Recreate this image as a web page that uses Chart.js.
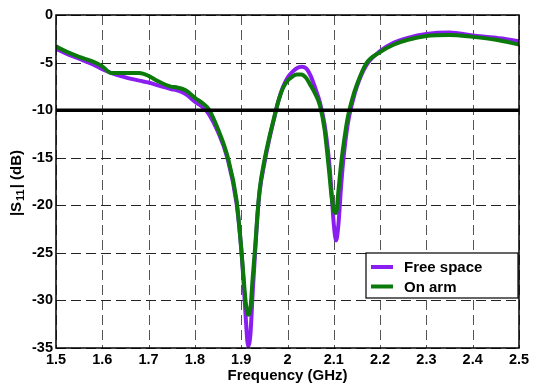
<!DOCTYPE html>
<html>
<head>
<meta charset="utf-8">
<script src="https://cdn.jsdelivr.net/npm/chart.js@4.4.1/dist/chart.umd.min.js"></script>
<style>
  html, body { margin: 0; padding: 0; background: #fff; }
  #wrap { width: 533px; height: 385px; }
</style>
</head>
<body>
<div id="wrap"><canvas id="s11Chart" width="533" height="385"></canvas></div>
<script>
// frequency samples (GHz)
const freq = [1.50, 1.52, 1.55, 1.58, 1.60, 1.62, 1.65, 1.68, 1.70, 1.72, 1.75, 1.76, 1.78, 1.80,
  1.82, 1.83, 1.85, 1.87, 1.89, 1.90, 1.905, 1.91, 1.915, 1.92, 1.925, 1.93, 1.935, 1.94,
  1.95, 1.96, 1.97, 1.98, 1.99, 2.00, 2.01, 2.02, 2.03, 2.04, 2.05, 2.06, 2.07, 2.08, 2.09,
  2.095, 2.10, 2.105, 2.11, 2.115, 2.12, 2.13, 2.14, 2.15, 2.17, 2.20, 2.23, 2.26, 2.30,
  2.35, 2.40, 2.45, 2.50];

// |S11| in free space (dB)
const freeSpace = [-3.55, -4.0, -4.6, -5.2, -5.7, -6.1, -6.55, -6.9, -7.1, -7.4, -7.8, -7.9, -8.3, -9.1,
  -9.8, -10.4, -12.3, -15.0, -19.8, -24.5, -28.0, -32.0, -34.8, -33.5, -29.0, -25.0, -21.2, -18.5,
  -15.6, -13.2, -11.1, -9.1, -7.6, -6.6, -6.0, -5.6, -5.45, -5.6, -6.4, -7.7, -9.2, -11.5, -15.5,
  -18.5, -22.0, -23.7, -22.0, -18.5, -15.5, -11.5, -9.2, -7.5, -5.3, -3.8, -2.9, -2.4, -2.0,
  -1.85, -2.15, -2.4, -2.75];

// |S11| on arm (dB)
const onArm = [-3.3, -3.8, -4.4, -4.9, -5.4, -6.1, -6.1, -6.1, -6.4, -6.95, -7.55, -7.6, -7.9, -8.7,
  -9.4, -9.9, -12.0, -14.8, -19.5, -24.5, -27.5, -30.3, -31.5, -30.8, -27.5, -24.5, -21.0, -18.3,
  -15.3, -13.0, -11.0, -9.1, -7.7, -6.9, -6.5, -6.25, -6.25, -6.6, -7.4, -8.3, -9.5, -12.0, -16.5,
  -19.0, -20.6, -20.8, -18.5, -16.0, -14.0, -10.8, -8.8, -7.3, -5.1, -3.9, -3.1, -2.6, -2.2,
  -2.1, -2.3, -2.6, -3.1];

// -10 dB reference line
const refFreq = [1.5, 2.5];
const refLevel = [-10, -10];

const xTicks = [1.5, 1.6, 1.7, 1.8, 1.9, 2.0, 2.1, 2.2, 2.3, 2.4, 2.5];
const yTicks = [0, -5, -10, -15, -20, -25, -30, -35];

const seriesNames = ['Free space', 'On arm'];
const seriesColors = ['#8a1ef0', '#0b7a0b'];

function pts(xs, ys) {
  return xs.map((x, i) => ({ x: x, y: ys[i] }));
}

const fontFam = '"Liberation Sans", Arial, sans-serif';
const tickFont = { family: 'Liberation Sans, Arial, sans-serif', size: 14.5, weight: 'bold' };
const titleFont = { family: 'Liberation Sans, Arial, sans-serif', size: 15, weight: 'bold' };

// dashed grid (drawn under the curves)
const gridPlugin = {
  id: 'dashGrid',
  beforeDatasetsDraw(chart) {
    const { ctx, chartArea: a, scales } = chart;
    ctx.save();
    ctx.lineWidth = 1;
    ctx.setLineDash([10, 5]);
    ctx.strokeStyle = '#555';
    xTicks.forEach(v => {
      const px = Math.round(scales.x.getPixelForValue(v)) + 0.5;
      ctx.beginPath();
      ctx.moveTo(px, a.top);
      ctx.lineTo(px, a.bottom);
      ctx.stroke();
    });
    ctx.strokeStyle = '#222';
    yTicks.forEach(v => {
      const py = Math.round(scales.y.getPixelForValue(v)) + 0.5;
      ctx.beginPath();
      ctx.moveTo(a.left, py);
      ctx.lineTo(a.right, py);
      ctx.stroke();
    });
    ctx.restore();
  }
};

// frame, legend box and y title with a real subscript
const framePlugin = {
  id: 'frame',
  afterDatasetsDraw(chart) {
    const { ctx, chartArea: a } = chart;
    ctx.save();
    ctx.strokeStyle = '#000';
    ctx.lineWidth = 1.5;
    ctx.strokeRect(a.left, a.top, a.right - a.left, a.bottom - a.top);

    // legend
    const bx = a.right - 153, by = a.bottom - 95, bw = 152, bh = 45;
    ctx.fillStyle = '#fff';
    ctx.fillRect(bx, by, bw, bh);
    ctx.lineWidth = 1.2;
    ctx.strokeRect(bx, by, bw, bh);
    ctx.font = 'bold 15px ' + fontFam;
    ctx.textBaseline = 'middle';
    seriesNames.forEach((name, i) => {
      const yy = by + 14 + i * 19.5;
      ctx.strokeStyle = seriesColors[i];
      ctx.lineWidth = 4;
      ctx.beginPath();
      ctx.moveTo(bx + 5, yy);
      ctx.lineTo(bx + 27, yy);
      ctx.stroke();
      ctx.fillStyle = '#000';
      ctx.fillText(name, bx + 38, yy + 1);
    });

    // y axis title: |S11| (dB)
    const parts = [
      { t: '|S', f: 'bold 15px ' + fontFam, dy: 0 },
      { t: '11', f: 'bold 11px ' + fontFam, dy: 4 },
      { t: '| (dB)', f: 'bold 15px ' + fontFam, dy: 0 }
    ];
    let total = 0;
    parts.forEach(p => { ctx.font = p.f; p.w = ctx.measureText(p.t).width + 1; total += p.w; });
    ctx.translate(17, (a.top + a.bottom) / 2 + 1);
    ctx.rotate(-Math.PI / 2);
    ctx.fillStyle = '#000';
    ctx.textAlign = 'left';
    ctx.textBaseline = 'middle';
    let cx = -total / 2;
    parts.forEach(p => {
      ctx.font = p.f;
      ctx.fillText(p.t, cx, p.dy);
      cx += p.w;
    });
    ctx.restore();
  }
};

const ctx = document.getElementById('s11Chart').getContext('2d');
new Chart(ctx, {
  type: 'line',
  data: {
    datasets: [
      {
        label: '-10 dB',
        data: pts(refFreq, refLevel),
        borderColor: '#000',
        borderWidth: 3.5,
        pointRadius: 0,
        order: 0
      },
      {
        label: seriesNames[1],
        data: pts(freq, onArm),
        borderColor: seriesColors[1],
        borderWidth: 4,
        pointRadius: 0,
        cubicInterpolationMode: 'monotone',
        order: 1
      },
      {
        label: seriesNames[0],
        data: pts(freq, freeSpace),
        borderColor: seriesColors[0],
        borderWidth: 4,
        pointRadius: 0,
        cubicInterpolationMode: 'monotone',
        order: 2
      }
    ]
  },
  options: {
    responsive: false,
    animation: false,
    layout: { padding: { top: 15, right: 14, left: 0, bottom: 0 } },
    plugins: {
      legend: { display: false },
      tooltip: { enabled: false }
    },
    scales: {
      x: {
        type: 'linear',
        min: 1.5,
        max: 2.5,
        afterBuildTicks: (axis) => { axis.ticks = xTicks.map(v => ({ value: v })); },
        afterFit: (axis) => { axis.height = 37; },
        ticks: {
          color: '#000',
          font: tickFont,
          padding: 3,
          maxRotation: 0,
          callback: (v) => (Math.round(v * 10) / 10).toString()
        },
        grid: { display: false, drawTicks: false, tickLength: 0 },
        border: { display: false },
        title: {
          display: true,
          text: 'Frequency (GHz)',
          color: '#000',
          font: titleFont,
          padding: { top: 0, bottom: 0 }
        }
      },
      y: {
        type: 'linear',
        min: -35,
        max: 0,
        afterBuildTicks: (axis) => { axis.ticks = yTicks.map(v => ({ value: v })); },
        afterFit: (axis) => { axis.width = 56; },
        ticks: {
          color: '#000',
          font: tickFont,
          padding: 3,
          callback: (v) => v.toString()
        },
        grid: { display: false, drawTicks: false, tickLength: 0 },
        border: { display: false },
        title: { display: false }
      }
    }
  },
  plugins: [gridPlugin, framePlugin]
});
</script>
</body>
</html>
